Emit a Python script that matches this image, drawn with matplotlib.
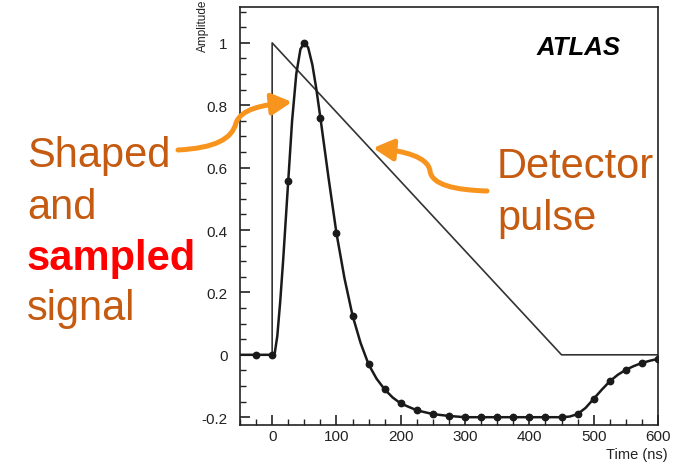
import matplotlib.pyplot as plt
import numpy as np
from matplotlib.patches import FancyArrowPatch
from matplotlib.path import Path
from matplotlib.ticker import MultipleLocator, FuncFormatter

plt.rcParams["font.family"] = ["Liberation Sans", "DejaVu Sans"]
plt.rcParams["axes.unicode_minus"] = False

# detector pulse (triangular)
det_t = [-50, 0, 0, 450, 600]
det_amp = [0, 0, 1, 0, 0]

# samples every 25 ns
sample_t = list(range(-25, 601, 25))
sample_amp = [0, 0, 0.557, 1.0, 0.76, 0.39, 0.126, -0.031, -0.111, -0.156,
              -0.178, -0.19, -0.196, -0.2, -0.2, -0.2, -0.2, -0.2, -0.2, -0.2,
              -0.19, -0.141, -0.085, -0.048, -0.026, -0.013]

# shaped signal
curve_t = [-50, -25, 0, 4, 8, 12.5, 17, 25, 31, 37.5, 44, 50, 56, 62.5, 68.5,
           75, 87.5, 100, 112.5, 125, 137.5, 150, 162.5, 175, 187.5, 200, 225,
           250, 275, 300, 450, 462.5, 475, 487.5, 500, 512.5, 525, 537.5, 550,
           562.5, 575, 587.5, 600]
curve_amp = [0, 0, 0, 0.005, 0.06, 0.17, 0.30, 0.557, 0.75, 0.90, 0.98, 1.0,
             0.985, 0.93, 0.855, 0.76, 0.57, 0.39, 0.245, 0.126, 0.038, -0.031,
             -0.077, -0.111, -0.137, -0.156, -0.178, -0.19, -0.196, -0.2, -0.2,
             -0.198, -0.19, -0.17, -0.141, -0.112, -0.085, -0.064, -0.048,
             -0.036, -0.026, -0.019, -0.013]

W, H = 674, 464
text_col = "#C55A11"
arrow_col = "#F7941D"


def px(x, y):
    # image pixel -> figure fraction
    return x / W, 1 - y / H


fig = plt.figure(figsize=(W / 100, H / 100), dpi=100)
ax = fig.add_axes([240 / W, 1 - 426 / H, (658 - 240) / W, (426 - 8) / H])

ax.plot(det_t, det_amp, color="#333333", lw=1.2)
ax.plot(curve_t, curve_amp, color="#1a1a1a", lw=1.8)
ax.plot(sample_t, sample_amp, "o", color="#1a1a1a", ms=4.6)

ax.set_xlim(-50, 600)
ax.set_ylim(-0.225, 1.115)
ax.xaxis.set_major_locator(MultipleLocator(100))
ax.xaxis.set_minor_locator(MultipleLocator(25))
ax.yaxis.set_major_locator(MultipleLocator(0.2))
ax.yaxis.set_minor_locator(MultipleLocator(0.05))
ax.yaxis.set_major_formatter(FuncFormatter(lambda v, p: f"{v:g}" if abs(v) > 1e-9 else "0"))
ax.tick_params(which="both", direction="in", top=False, right=False,
               labelsize=11, colors="#222222")
ax.tick_params(which="major", length=7, width=1.2)
ax.tick_params(which="minor", length=4, width=1.0)
ax.tick_params(axis="y", pad=9)
ax.tick_params(axis="x", pad=3)
for s in ax.spines.values():
    s.set_linewidth(1.2)
    s.set_color("#222222")

fig.text(*px(203, 26), "Amplitude", rotation=90, ha="center", va="center",
         fontsize=8.5, color="#222222")
fig.text(*px(668, 455), "Time (ns)", ha="right", va="center",
         fontsize=10.5, color="#222222")
fig.text(*px(537, 55), "ATLAS", ha="left", va="baseline", fontsize=18.5,
         fontweight="bold", fontstyle="italic", color="black")

# annotation text
fig.text(*px(27, 167), "Shaped", fontsize=30, color=text_col, va="baseline")
fig.text(*px(27, 219), "and", fontsize=30, color=text_col, va="baseline")
fig.text(*px(27, 270), "sampled", fontsize=30, color="#FF0000",
         fontweight="bold", va="baseline")
fig.text(*px(27, 320), "signal", fontsize=30, color=text_col, va="baseline")
fig.text(*px(497, 178), "Detector", fontsize=30, color=text_col, va="baseline")
fig.text(*px(497, 230), "pulse", fontsize=30, color=text_col, va="baseline")

# curved arrows
left_arrow = [(178, 151), (215, 149), (232, 140), (236, 124),
              (241, 110), (262, 106), (292, 103)]
right_arrow = [(487, 192), (455, 191), (432, 186), (430, 172),
               (428, 158), (405, 152), (373, 149)]
for pts in (left_arrow, right_arrow):
    verts = [px(x, y) for x, y in pts]
    codes = [Path.MOVETO] + [Path.CURVE4] * 6
    arr = FancyArrowPatch(path=Path(verts, codes),
                          arrowstyle="-|>,head_length=0.6,head_width=0.32",
                          mutation_scale=20, lw=3.6, color=arrow_col,
                          transform=fig.transFigure)
    fig.add_artist(arr)

fig.savefig("out.png", dpi=100)
